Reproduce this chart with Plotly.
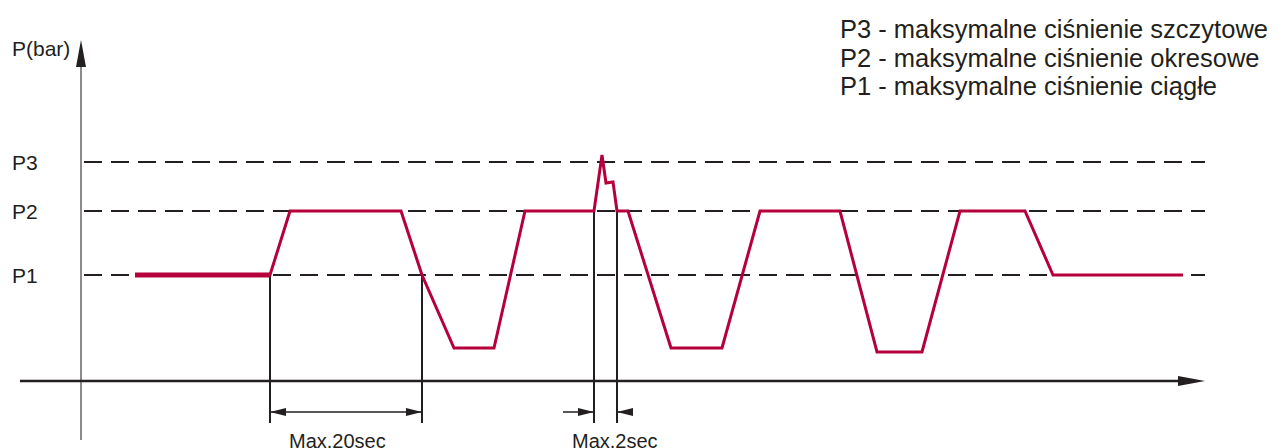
import plotly.graph_objects as go

# ---- data (time in chart units, pressure in chart units; axis origin at 0) ----
time = [135, 270, 290, 401, 422, 454, 494, 525, 594, 602, 606, 613, 617, 628,
        671, 722, 760, 840, 877, 922, 960, 1025, 1053, 1183]
pressure = [106, 106, 170, 170, 106, 33, 33, 170, 170, 226, 198, 199, 170, 170,
            33, 33, 170, 170, 29, 29, 170, 170, 106, 106]

level_names = ["P1", "P2", "P3"]
level_values = [106, 170, 219]

legend_lines = [
    "P3 - maksymalne ciśnienie szczytowe",
    "P2 - maksymalne ciśnienie okresowe",
    "P1 - maksymalne ciśnienie ciągłe",
]

dim_labels = ["Max.20sec", "Max.2sec"]
dim_spans = [(270, 422), (594, 617)]

# ---- layout constants ----
W, H = 1285, 448
Y_LOW, Y_HIGH = -67, 381
X_AXIS_START, X_AXIS_END = 20, 1205
Y_AXIS_X, Y_AXIS_BOTTOM, Y_AXIS_TOP = 81, -59, 341
DASH_START = 84
DIM_Y = -31
DIM_BOTTOM = -42
RED = "#B5003B"
INK = "#231F20"
FONT = "Liberation Sans, Arial, sans-serif"

fig = go.Figure()

# pressure waveform
fig.add_trace(go.Scatter(x=time, y=pressure, mode="lines",
                         line=dict(color=RED, width=3), hoverinfo="skip"))
# thicker initial steady segment
fig.add_trace(go.Scatter(x=time[:2], y=pressure[:2], mode="lines",
                         line=dict(color=RED, width=5), hoverinfo="skip"))

shapes = []
# dashed pressure levels
for v in level_values:
    shapes.append(dict(type="line", x0=DASH_START, x1=X_AXIS_END, y0=v, y1=v,
                       line=dict(color=INK, width=2, dash="18px,9px"), layer="below"))

# axes
shapes.append(dict(type="line", x0=Y_AXIS_X, x1=Y_AXIS_X, y0=Y_AXIS_BOTTOM, y1=Y_AXIS_TOP - 26,
                   line=dict(color="#8C8C8C", width=2), layer="below"))
shapes.append(dict(type="path",
                   path=f"M {Y_AXIS_X} {Y_AXIS_TOP} L {Y_AXIS_X-5} {Y_AXIS_TOP-27} L {Y_AXIS_X+5} {Y_AXIS_TOP-27} Z",
                   fillcolor=INK, line=dict(width=0)))
shapes.append(dict(type="line", x0=X_AXIS_START, x1=X_AXIS_END - 26, y0=0, y1=0,
                   line=dict(color=INK, width=2.5)))
shapes.append(dict(type="path",
                   path=f"M {X_AXIS_END} 0 L {X_AXIS_END-27} 5 L {X_AXIS_END-27} -5 Z",
                   fillcolor=INK, line=dict(width=0)))


def vline_from_wave(x):
    # find waveform level at x
    for i in range(len(time) - 1):
        if time[i] <= x <= time[i + 1]:
            t = (x - time[i]) / (time[i + 1] - time[i]) if time[i + 1] != time[i] else 0
            return pressure[i] + t * (pressure[i + 1] - pressure[i])
    return 0


def arrowhead(tip_x, direction, length=16, half=4):
    bx = tip_x - direction * length
    return dict(type="path",
                path=f"M {tip_x} {DIM_Y} L {bx} {DIM_Y+half} L {bx} {DIM_Y-half} Z",
                fillcolor=INK, line=dict(width=0))


# dimension: Max.20sec (inside arrows)
a, b = dim_spans[0]
for x in (a, b):
    shapes.append(dict(type="line", x0=x, x1=x, y0=vline_from_wave(x), y1=DIM_BOTTOM,
                       line=dict(color=INK, width=2), layer="below"))
shapes.append(dict(type="line", x0=a, x1=b, y0=DIM_Y, y1=DIM_Y, line=dict(color=INK, width=1.5)))
shapes.append(arrowhead(a, -1))
shapes.append(arrowhead(b, 1))

# dimension: Max.2sec (outside arrows)
a, b = dim_spans[1]
for x in (a, b):
    shapes.append(dict(type="line", x0=x, x1=x, y0=level_values[1], y1=DIM_BOTTOM,
                       line=dict(color=INK, width=2), layer="below"))
shapes.append(dict(type="line", x0=a - 31, x1=a, y0=DIM_Y, y1=DIM_Y, line=dict(color=INK, width=1.5)))
shapes.append(dict(type="line", x0=b, x1=b + 16, y0=DIM_Y, y1=DIM_Y, line=dict(color=INK, width=1.5)))
shapes.append(arrowhead(a, 1))
shapes.append(arrowhead(b, -1))

annotations = []
# level labels
for name, v in zip(level_names, level_values):
    annotations.append(dict(x=10, y=v, text=name, showarrow=False, xanchor="left",
                            yanchor="middle", font=dict(size=21, color=INK, family=FONT)))
annotations.append(dict(x=10, y=381 - 48, text="P(bar)", showarrow=False, xanchor="left",
                        yanchor="middle", font=dict(size=21, color=INK, family=FONT)))
# dimension labels
annotations.append(dict(x=337, y=-60, text=dim_labels[0], showarrow=False, xanchor="center",
                        yanchor="middle", font=dict(size=20, color=INK, family=FONT)))
annotations.append(dict(x=615, y=-60, text=dim_labels[1], showarrow=False, xanchor="center",
                        yanchor="middle", font=dict(size=20, color=INK, family=FONT)))
# legend text
for i, line in enumerate(legend_lines):
    annotations.append(dict(x=838, y=381 - (29 + 28.5 * i), text=line, showarrow=False,
                            xanchor="left", yanchor="middle",
                            font=dict(size=25.5, color=INK, family=FONT)))

fig.update_layout(
    width=W, height=H, margin=dict(l=0, r=0, t=0, b=0),
    paper_bgcolor="white", plot_bgcolor="white", showlegend=False,
    xaxis=dict(range=[0, W], visible=False, fixedrange=True),
    yaxis=dict(range=[Y_LOW, Y_HIGH], visible=False, fixedrange=True),
    shapes=shapes, annotations=annotations,
)

fig.write_html("out.html", config={"displayModeBar": False},
               post_script="document.body.style.margin='0px';document.body.style.overflow='hidden';")
